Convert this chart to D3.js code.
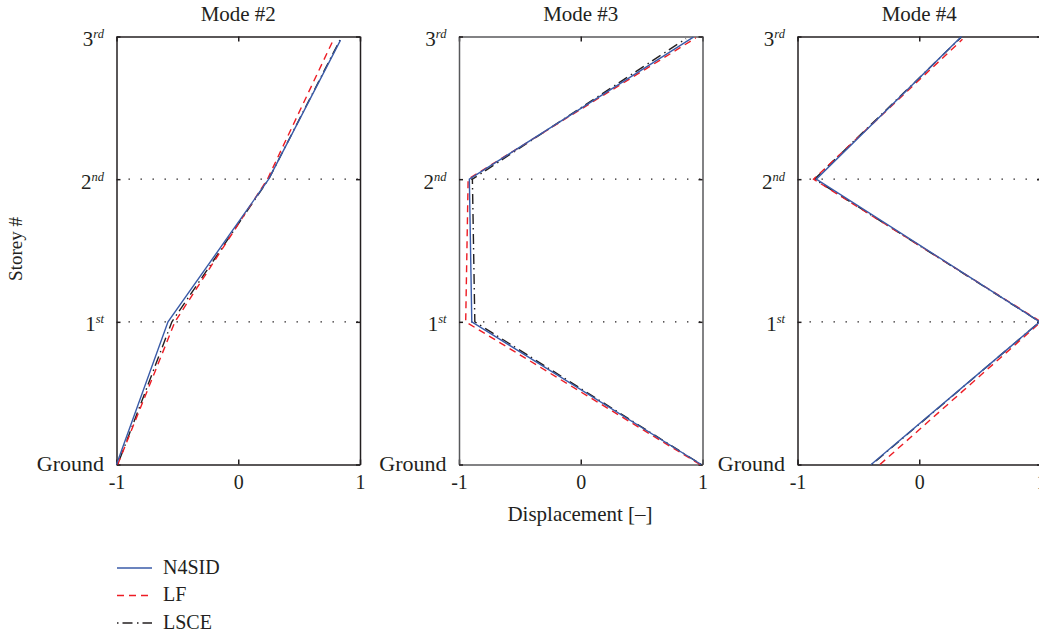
<!DOCTYPE html>
<html>
<head>
<meta charset="utf-8">
<script src="https://cdn.jsdelivr.net/npm/d3@7"></script>
<style>
  html, body { margin: 0; padding: 0; background: #fff; overflow: hidden; }
  text { font-family: "Liberation Serif", serif; fill: #231f20; }
</style>
</head>
<body>
<div id="chart"></div>
<script>
// Width and height
var chart_width  = 1039;
var chart_height = 637;

var modes = ["Mode #2", "Mode #3", "Mode #4"];
var storeys = [0, 1, 2, 3];
var storey_labels = [["Ground", ""], ["1", "st"], ["2", "nd"], ["3", "rd"]];
var x_ticks = [-1, 0, 1];

// displacement per storey (ground -> 3rd)
var n4sid_m2 = [-1.00, -0.577, 0.25, 0.84];
var lf_m2    = [-0.99, -0.52, 0.24, 0.78];
var lsce_m2  = [-0.99, -0.545, 0.25, 0.835];

var n4sid_m3 = [0.99, -0.895, -0.915, 0.925];
var lf_m3    = [0.98, -0.945, -0.925, 0.945];
var lsce_m3  = [0.99, -0.87, -0.89, 0.865];

var n4sid_m4 = [-0.395, 0.99, -0.846, 0.347];
var lf_m4    = [-0.323, 1.00, -0.868, 0.355];
var lsce_m4  = [-0.39, 0.99, -0.86, 0.345];

// storey reached at the top of each line (they stop a little under the frame)
var top_m2 = [2.975, 2.975, 2.975];
var top_m3 = [2.995, 2.99, 2.985];
var top_m4 = [3.0, 2.98, 2.995];

var series_names = ["N4SID", "LF", "LSCE"];
var series_colors = ["#3a5ba8", "#ed1c24", "#231f20"];
var series_dashes = ["none", "7,5", "1.5,4,10,4.5"];

var mode_values = [
  [n4sid_m2, lf_m2, lsce_m2],
  [n4sid_m3, lf_m3, lsce_m3],
  [n4sid_m4, lf_m4, lsce_m4]
];
var mode_tops = [top_m2, top_m3, top_m4];

var panel_left = [116.5, 459, 797.5];
var panel_width = 243.5;
var panel_top = 36.5;
var panel_bottom = 464.5;
var frame_colors = ["#231f20", "#58595b", "#231f20"];

var svg = d3.select("#chart")
  .append("svg")
  .attr("width", chart_width)
  .attr("height", chart_height)
  .style("display", "block");

var y = d3.scaleLinear().domain([0, 3]).range([panel_bottom, panel_top]);

// one panel per mode
modes.forEach(function(mode, m){
  var x = d3.scaleLinear().domain([-1, 1]).range([panel_left[m], panel_left[m] + panel_width]);
  var g = svg.append("g");

  // dotted storey lines
  g.selectAll(".grid")
    .data([1, 2])
    .enter()
    .append("line")
    .attr("x1", x(-1) + 12)
    .attr("x2", x(1))
    .attr("y1", function(d){ return y(d); })
    .attr("y2", function(d){ return y(d); })
    .attr("stroke", "#231f20")
    .attr("stroke-width", 1.3)
    .attr("stroke-dasharray", "1.4,10.6");

  // bottom axis
  var bottom = g.append("g")
    .attr("transform", "translate(0," + panel_bottom + ")")
    .call(d3.axisBottom(x).tickValues(x_ticks).tickSize(-5).tickSizeOuter(0).tickFormat(function(d){ return String(d); }));
  bottom.selectAll("text")
    .style("font-size", "20px")
    .attr("y", 24.5)
    .attr("dy", 0);

  // top axis, ticks only
  g.append("g")
    .attr("transform", "translate(0," + panel_top + ")")
    .call(d3.axisTop(x).tickValues(x_ticks).tickSize(-5).tickSizeOuter(0).tickFormat(""));

  // left axis with ordinal suffixes
  var left = g.append("g")
    .attr("transform", "translate(" + x(-1) + ",0)")
    .call(d3.axisLeft(y).tickValues(storeys).tickSize(-4).tickSizeOuter(0).tickFormat(""));
  left.selectAll(".tick text")
    .attr("x", -12.5)
    .attr("dy", function(d){ return d === 0 ? "6px" : "9px"; })
    .style("font-size", function(d){ return d === 0 ? "22px" : "21px"; })
    .each(function(d){
      var t = d3.select(this);
      t.append("tspan").text(storey_labels[d][0]);
      t.append("tspan")
        .attr("dy", "-8px")
        .style("font-size", "12.5px")
        .style("font-style", "italic")
        .text(storey_labels[d][1]);
    });

  // right axis, ticks only
  g.append("g")
    .attr("transform", "translate(" + x(1) + ",0)")
    .call(d3.axisRight(y).tickValues(storeys).tickSize(-4).tickSizeOuter(0).tickFormat(""));

  g.selectAll(".domain").attr("stroke", frame_colors[m]).attr("stroke-width", 1.5);
  g.selectAll(".tick line").attr("stroke", "#231f20").attr("stroke-width", 1.5);
  g.selectAll(".tick text").attr("fill", "#231f20");

  // title
  g.append("text")
    .attr("x", x(0))
    .attr("y", 21)
    .attr("text-anchor", "middle")
    .style("font-size", "21px")
    .text(mode);

  // the three identified mode shapes, LSCE first so blue sits on top
  var line = d3.line()
    .x(function(d){ return x(d[0]); })
    .y(function(d){ return y(d[1]); });

  [2, 1, 0].forEach(function(s){
    var pts = mode_values[m][s].map(function(v, i){
      return [v, i === 3 ? mode_tops[m][s] : storeys[i]];
    });
    g.append("path")
      .datum(pts)
      .attr("d", line)
      .attr("fill", "none")
      .attr("stroke", series_colors[s])
      .attr("stroke-width", 1.4)
      .attr("stroke-dasharray", series_dashes[s]);
  });
});

// axis titles
svg.append("text")
  .attr("x", 580)
  .attr("y", 521)
  .attr("text-anchor", "middle")
  .style("font-size", "21px")
  .text("Displacement [–]");

svg.append("text")
  .attr("transform", "translate(22,249) rotate(-90)")
  .attr("text-anchor", "middle")
  .style("font-size", "19px")
  .text("Storey #");

// legend
var legend_y = d3.scalePoint().domain(series_names).range([568, 623]);

var legend = svg.selectAll(".legend")
  .data(series_names)
  .enter()
  .append("g")
  .attr("transform", function(d){ return "translate(117," + legend_y(d) + ")"; });

legend.append("line")
  .attr("x1", 0)
  .attr("x2", 35)
  .attr("stroke", function(d, i){ return series_colors[i]; })
  .attr("stroke-width", 1.4)
  .attr("stroke-dasharray", function(d, i){ return series_dashes[i]; });

legend.append("text")
  .attr("x", 46)
  .attr("y", 5.5)
  .style("font-size", "20px")
  .text(function(d){ return d; });
</script>
</body>
</html>
